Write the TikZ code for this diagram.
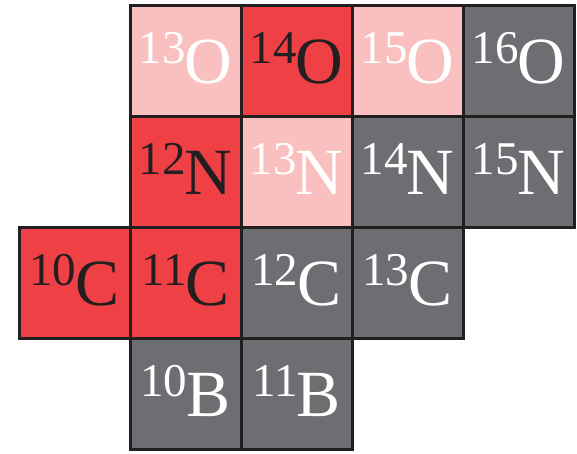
\documentclass[tikz,border=0pt]{standalone}
\usepackage{fontspec}
\setmainfont{Liberation Serif}
\definecolor{pinkc}{HTML}{F9C0BF}
\definecolor{redc}{HTML}{EF4046}
\definecolor{grayc}{HTML}{6D6E71}
\definecolor{linec}{HTML}{231F20}
\newcommand{\isot}[2]{\raisebox{20pt}{\fontsize{47}{47}\selectfont #1}\kern-1pt{\fontsize{66}{66}\selectfont #2}}
\tikzset{
  cell/.style={draw=linec, line width=3pt, minimum size=111pt, inner sep=0pt,
    text height=50pt, text depth=5pt, align=center},
  hot/.style={cell, fill=redc, text=linec},
  warm/.style={cell, fill=pinkc, text=white},
  stable/.style={cell, fill=grayc, text=white}
}
\begin{document}
\begin{tikzpicture}[x=1pt, y=-1pt]
\useasboundingbox (0,0) rectangle (577,453);
% row 1: oxygen
\node[warm]   (o13) at (185.5,61) {\isot{13}{O}};
\node[hot]    (o14) at (296.5,61) {\isot{14}{O}};
\node[warm]   (o15) at (407.5,61) {\isot{15}{O}};
\node[stable] (o16) at (518.5,61) {\isot{16}{O}};
% row 2: nitrogen
\node[hot]    (n12) at (185.5,172) {\isot{12}{N}};
\node[warm]   (n13) at (296.5,172) {\isot{13}{N}};
\node[stable] (n14) at (407.5,172) {\isot{14}{N}};
\node[stable] (n15) at (518.5,172) {\isot{15}{N}};
% row 3: carbon
\node[hot]    (c10) at (74.5,283) {\isot{10}{C}};
\node[hot]    (c11) at (185.5,283) {\isot{11}{C}};
\node[stable] (c12) at (296.5,283) {\isot{12}{C}};
\node[stable] (c13) at (407.5,283) {\isot{13}{C}};
% row 4: boron
\node[stable] (b10) at (185.5,394) {\isot{10}{B}};
\node[stable] (b11) at (296.5,394) {\isot{11}{B}};
\end{tikzpicture}
\end{document}
